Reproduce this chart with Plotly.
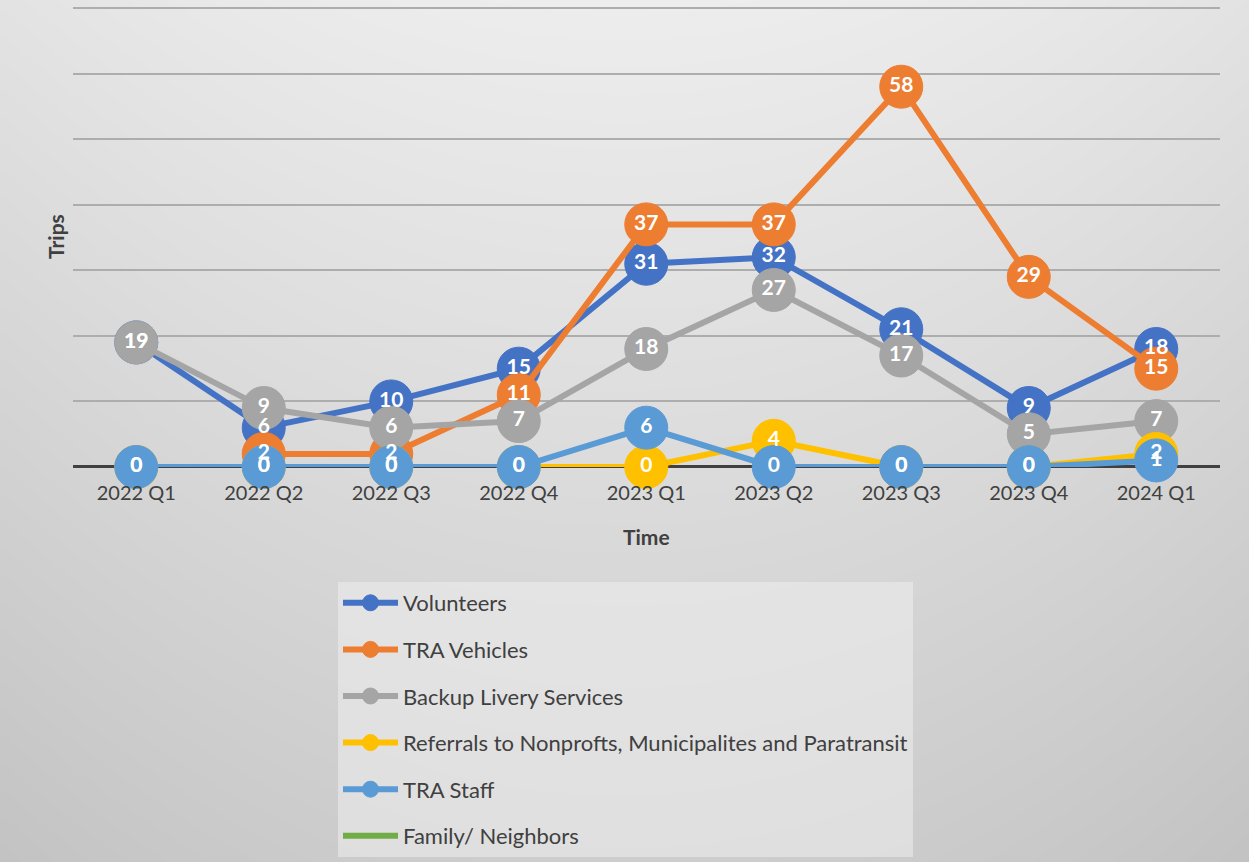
import numpy as np
import plotly.graph_objects as go

quarters = ["2022 Q1", "2022 Q2", "2022 Q3", "2022 Q4", "2023 Q1",
            "2023 Q2", "2023 Q3", "2023 Q4", "2024 Q1"]
volunteers = [19, 6, 10, 15, 31, 32, 21, 9, 18]
tra_vehicles = [None, 2, 2, 11, 37, 37, 58, 29, 15]
backup_livery = [19, 9, 6, 7, 18, 27, 17, 5, 7]
referrals = [0, 0, 0, 0, 0, 4, 0, 0, 2]
tra_staff = [0, 0, 0, 0, 6, 0, 0, 0, 1]
family = [None] * 9

series = [
    ("Volunteers", volunteers, "#4472C4", True),
    ("TRA Vehicles", tra_vehicles, "#ED7D31", True),
    ("Backup Livery Services", backup_livery, "#A5A5A5", True),
    ("Referrals to Nonprofts, Municipalites and Paratransit", referrals, "#FFC000", True),
    ("TRA Staff", tra_staff, "#5B9BD5", True),
    ("Family/ Neighbors", family, "#70AD47", False),
]

W, H = 1249, 862
FONT = "Lato"
Y0_PX, Y70_PX = 467, 8
YMAX = 70.6
px_per_unit = (Y0_PX - Y70_PX) / 70
top_px = Y0_PX - YMAX * px_per_unit

fig = go.Figure()

# background gradient (decorative)
gx = np.linspace(5, W, 60)
gy = np.linspace(0, H, 45)
GX, GY = np.meshgrid(gx, gy)
Z = 237 - 32 * (GY / H) - 11 * ((GX - 620) / 640) ** 2
fig.add_trace(go.Heatmap(x=gx, y=gy, z=Z, zsmooth="best", zmin=180, zmax=240,
                         colorscale=[[0, "rgb(180,180,180)"], [1, "rgb(240,240,240)"]],
                         showscale=False, hoverinfo="skip", xaxis="x", yaxis="y"))

for name, vals, color, markers in series:
    fig.add_trace(go.Scatter(
        x=quarters, y=vals, name=name, legendgroup=name,
        mode="lines+markers" if markers else "lines",
        line=dict(color=color, width=6),
        marker=dict(size=43, color=color, line=dict(width=1, color=color)),
        cliponaxis=False, xaxis="x2", yaxis="y2"))

for name, vals, color, markers in series:
    if not markers:
        continue
    fig.add_trace(go.Scatter(
        x=quarters, y=vals, mode="text", text=[("" if v is None else str(v)) for v in vals],
        textposition="middle center",
        textfont=dict(family=FONT, size=21, color="white", weight="bold"),
        showlegend=False, hoverinfo="skip", cliponaxis=False, xaxis="x2", yaxis="y2"))

fig.update_layout(
    width=W, height=H,
    margin=dict(l=0, r=0, t=0, b=0),
    paper_bgcolor="white", plot_bgcolor="rgba(0,0,0,0)",
    font=dict(family=FONT, color="#404040"),
    xaxis=dict(domain=[0, 1], range=[0, W], visible=False, fixedrange=True),
    yaxis=dict(domain=[0, 1], range=[H, 0], visible=False, fixedrange=True),
    xaxis2=dict(domain=[72.5 / W, 1220 / W], type="category", range=[-0.5, 8.5],
                showgrid=False, showline=False, ticks="", anchor="y2",
                tickfont=dict(family=FONT, size=20, color="#404040"),
                ticklabelstandoff=12),
    yaxis2=dict(domain=[(H - Y0_PX) / H, (H - top_px) / H], range=[0, YMAX], dtick=10,
                showgrid=True, gridcolor="#ADADAD", gridwidth=2,
                zeroline=True, zerolinecolor="#404040", zerolinewidth=3,
                showticklabels=False, ticks="", anchor="x2"),
    showlegend=True,
    legend=dict(x=338 / W, y=1 - 582 / H, xanchor="left", yanchor="top",
                bgcolor="rgba(238,238,238,0.55)", borderwidth=0,
                font=dict(family=FONT, size=22, color="#404040"),
                tracegroupgap=15, itemwidth=55),
    annotations=[
        dict(text="<b>Time</b>", x=646 / W, y=1 - 536 / H, xref="paper", yref="paper",
             xanchor="center", yanchor="middle",
             showarrow=False, font=dict(family=FONT, size=21, color="#404040")),
        dict(text="<b>Trips</b>", x=55 / W, y=1 - 237 / H, xref="paper", yref="paper",
             xanchor="center", yanchor="middle",
             showarrow=False, textangle=-90, font=dict(family=FONT, size=21, color="#404040")),
    ],
)

fig.write_html("out.html", config={"displayModeBar": False},
               post_script="document.body.style.margin='0';document.body.style.overflow='hidden';")
